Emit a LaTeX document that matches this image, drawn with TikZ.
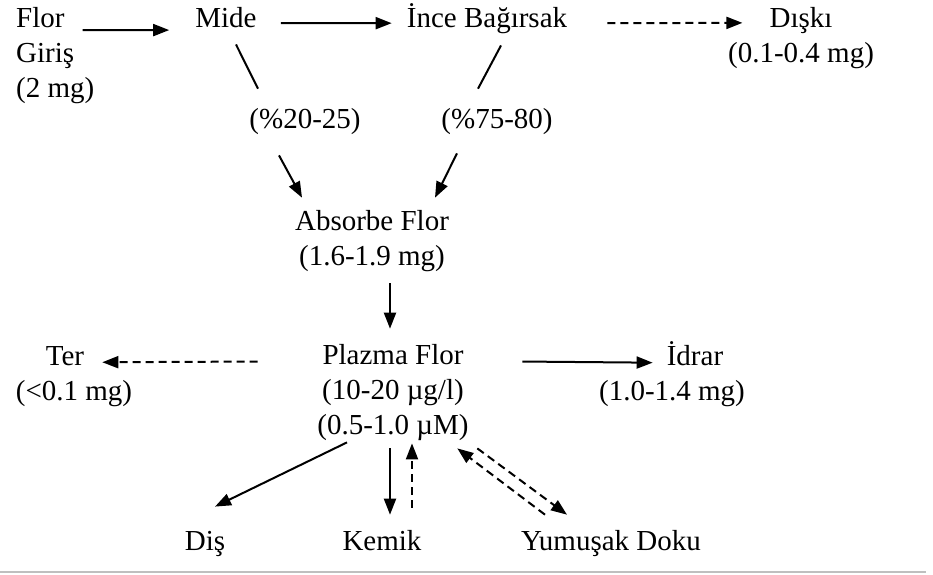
\documentclass[tikz,border=0pt]{standalone}
\usepackage{fontspec}
\setmainfont{Liberation Serif}
\usetikzlibrary{arrows.meta,calc}
\begin{document}
\begin{tikzpicture}[x=1pt,y=-1pt,
  lbl/.style={inner sep=0pt, anchor=base, align=center, font=\fontsize{29}{35}\selectfont},
  arr/.style={line width=2pt, -{Triangle[length=16pt,width=12pt]}},
  darr/.style={arr, dash pattern=on 8pt off 5pt},
  plainline/.style={line width=2pt}]
\useasboundingbox (0,0) rectangle (933,574);
% nodes (base anchor = baseline of the last line)
\node[lbl, anchor=base west, align=left] (flor) at (16,97) {Flor\\Giriş\\(2 mg)};
\node[lbl] (mide) at (226,27) {Mide};
\node[lbl] (ince) at (487,27) {İnce Bağırsak};
\node[lbl] (diski) at (801,62) {Dışkı\\(0.1-0.4 mg)};
\node[lbl] (p1) at (305,128) {(\%20-25)};
\node[lbl] (p2) at (497,128) {(\%75-80)};
\node[lbl] (abs) at (372,265) {Absorbe Flor\\(1.6-1.9 mg)};
\node[lbl] (plazma) at (393,434) {Plazma Flor\\(10-20 µg/l)\\(0.5-1.0 µM)};
\node[lbl] (ter) at (65,365) {Ter};
\node[lbl] (termg) at (74,400) {(<0.1 mg)};
\node[lbl] (idrar) at (695,365) {İdrar};
\node[lbl] (idrarmg) at (672,400) {(1.0-1.4 mg)};
\node[lbl] (dis) at (205,550) {Diş};
\node[lbl] (kemik) at (382,550) {Kemik};
\node[lbl] (yumusak) at (611,550) {Yumuşak Doku};
% connectors
\draw[arr] ([shift={(-12,-25)}]flor.east) -- ([shift={(-26,13)}]mide.west);
\draw[arr] ([shift={(24,6)}]mide.east) -- ([shift={(-15,5)}]ince.west);
\draw[darr] ([shift={(40,5)}]ince.east) -- ([shift={(14.5,-14.7)}]diski.west);
\draw[plainline] ([shift={(10,17)}]mide.south) -- ([shift={(-47,-19)}]p1.north);
\draw[plainline] ([shift={(14,12)}]ince.south) -- ([shift={(-19,-19)}]p2.north);
\draw[arr] ([shift={(-26,21)}]p1.south) -- ([shift={(-70,-12)}]abs.north);
\draw[arr] ([shift={(-40,19)}]p2.south) -- ([shift={(63,-12)}]abs.north);
\draw[arr] ([shift={(18,12)}]abs.south) -- ([shift={(-3,-15)}]plazma.north);
\draw[darr] ([shift={(-59.5,-30.5)}]plazma.west) -- ([shift={(18,6.6)}]ter.east);
\draw[arr] ([shift={(53.5,-30.5)}]plazma.east) -- ([shift={(-14,9.5)}]idrar.west);
\draw[arr] ([shift={(-46,2)}]plazma.south) -- ([shift={(10,-24)}]dis.north);
\draw[arr] ([shift={(-3,8)}]plazma.south) -- ([shift={(8,-15)}]kemik.north);
\draw[darr] ([shift={(30,-22)}]kemik.north) -- ([shift={(19,3)}]plazma.south);
\draw[darr] ([shift={(8.5,8)}]plazma.south east) -- ([shift={(-44,-15)}]yumusak.north);
\draw[darr] ([shift={(-66,-15)}]yumusak.north) -- ([shift={(-11.5,8)}]plazma.south east);
% bottom rule
\draw[black!25, line width=1.5pt] (0,572) -- (926,572);
\end{tikzpicture}
\end{document}
